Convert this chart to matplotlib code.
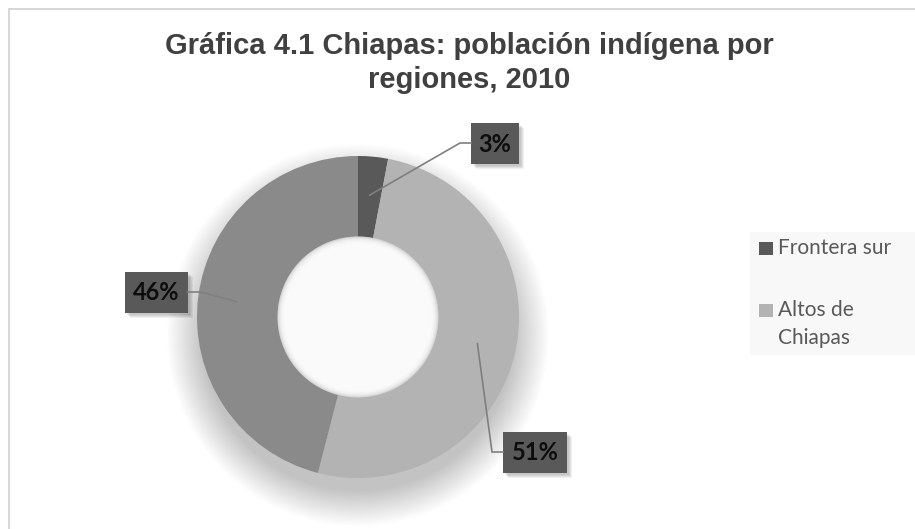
import matplotlib.pyplot as plt
from matplotlib.patches import Circle, Rectangle
import numpy as np

# data
regions = ['Frontera sur', 'Altos de Chiapas', 'Selva']
shares = [3, 51, 46]
colors = ['#595959', '#b3b3b3', '#8a8a8a']
legend_lines = [['Frontera sur'], ['Altos de', 'Chiapas']]  # third entry is cut off

W, H = 915, 529
fig = plt.figure(figsize=(W / 100, H / 100), dpi=100)
ax = fig.add_axes([0, 0, 1, 1])

def Y(y):
    return H - y

cx, cy, R = 358, 317, 161

# soft shadow under the donut
for i in range(30):
    r = R + 30 - i * 1.2
    ax.add_patch(Circle((cx, Y(cy + 18)), r, color='black', alpha=0.007, lw=0))

wedges, _ = ax.pie(shares, colors=colors, startangle=90, counterclock=False,
                   center=(cx, Y(cy)), radius=R, frame=True,
                   wedgeprops=dict(width=R / 2, linewidth=0))
ax.set_xlim(0, W)
ax.set_ylim(0, H)
ax.set_aspect('auto')
ax.axis('off')

# chart frame
ax.add_patch(Rectangle((8.5, Y(8.5) - 600), 1000, 600, fill=False,
                       edgecolor='#d0d0d0', lw=1.2))

# hole, slightly shaded at its rim
for i in range(8):
    ax.add_patch(Circle((cx, Y(cy)), R / 2 - i * 1.0, color='white', alpha=0.3, lw=0))

# data labels: box centre in pixels and side the leader leaves from
label_pos = {3: (495, 143, 'left'), 51: (535, 452, 'left'), 46: (156, 292, 'right')}
box_w = {3: 48, 51: 64, 46: 63}
bh = 41
cum = 0
for v in shares:
    mid = np.deg2rad(90 - (cum + v / 2) / sum(shares) * 360)
    cum += v
    px = cx + 0.76 * R * np.cos(mid)
    py = Y(cy) + 0.76 * R * np.sin(mid)
    bx, by, side = label_pos[v]
    bw = box_w[v]
    edge = bx - bw / 2 if side == 'left' else bx + bw / 2
    elbow = edge - 11 if side == 'left' else edge + 13
    ax.plot([px, elbow, edge], [py, Y(by), Y(by)], color='#7f7f7f', lw=1.2)
    for s in range(4):
        ax.add_patch(Rectangle((bx - bw / 2 + 2 + s, Y(by) - bh / 2 - 2 - s), bw, bh,
                               color='black', alpha=0.06, lw=0))
    ax.add_patch(Rectangle((bx - bw / 2, Y(by) - bh / 2), bw, bh,
                           color='#595959', lw=0))
    ax.text(bx, Y(by) - 1, f'{v}%', ha='center', va='center', fontsize=17,
            fontweight='bold', family='Lato', color='#0d0d0d')

ax.text(W / 2 + 12, Y(46), 'Gráfica 4.1 Chiapas: población indígena por',
        ha='center', va='center', fontsize=21, fontweight='bold',
        family='Liberation Sans', color='#404040')
ax.text(W / 2 + 12, Y(80), 'regiones, 2010', ha='center', va='center',
        fontsize=21, fontweight='bold', family='Liberation Sans', color='#404040')

# legend
ax.add_patch(Rectangle((750, Y(355)), 165, 123, color='#f8f8f8', lw=0))
leg_y = [248, 310]
for k, lines in enumerate(legend_lines):
    ax.add_patch(Rectangle((759, Y(leg_y[k]) - 6.5), 14, 13, color=colors[k], lw=0))
    for j, line in enumerate(lines):
        ax.text(778, Y(leg_y[k] + 28 * j), line, ha='left', va='center',
                fontsize=15, family='Lato', color='#595959')

fig.savefig('out.png', dpi=100)
